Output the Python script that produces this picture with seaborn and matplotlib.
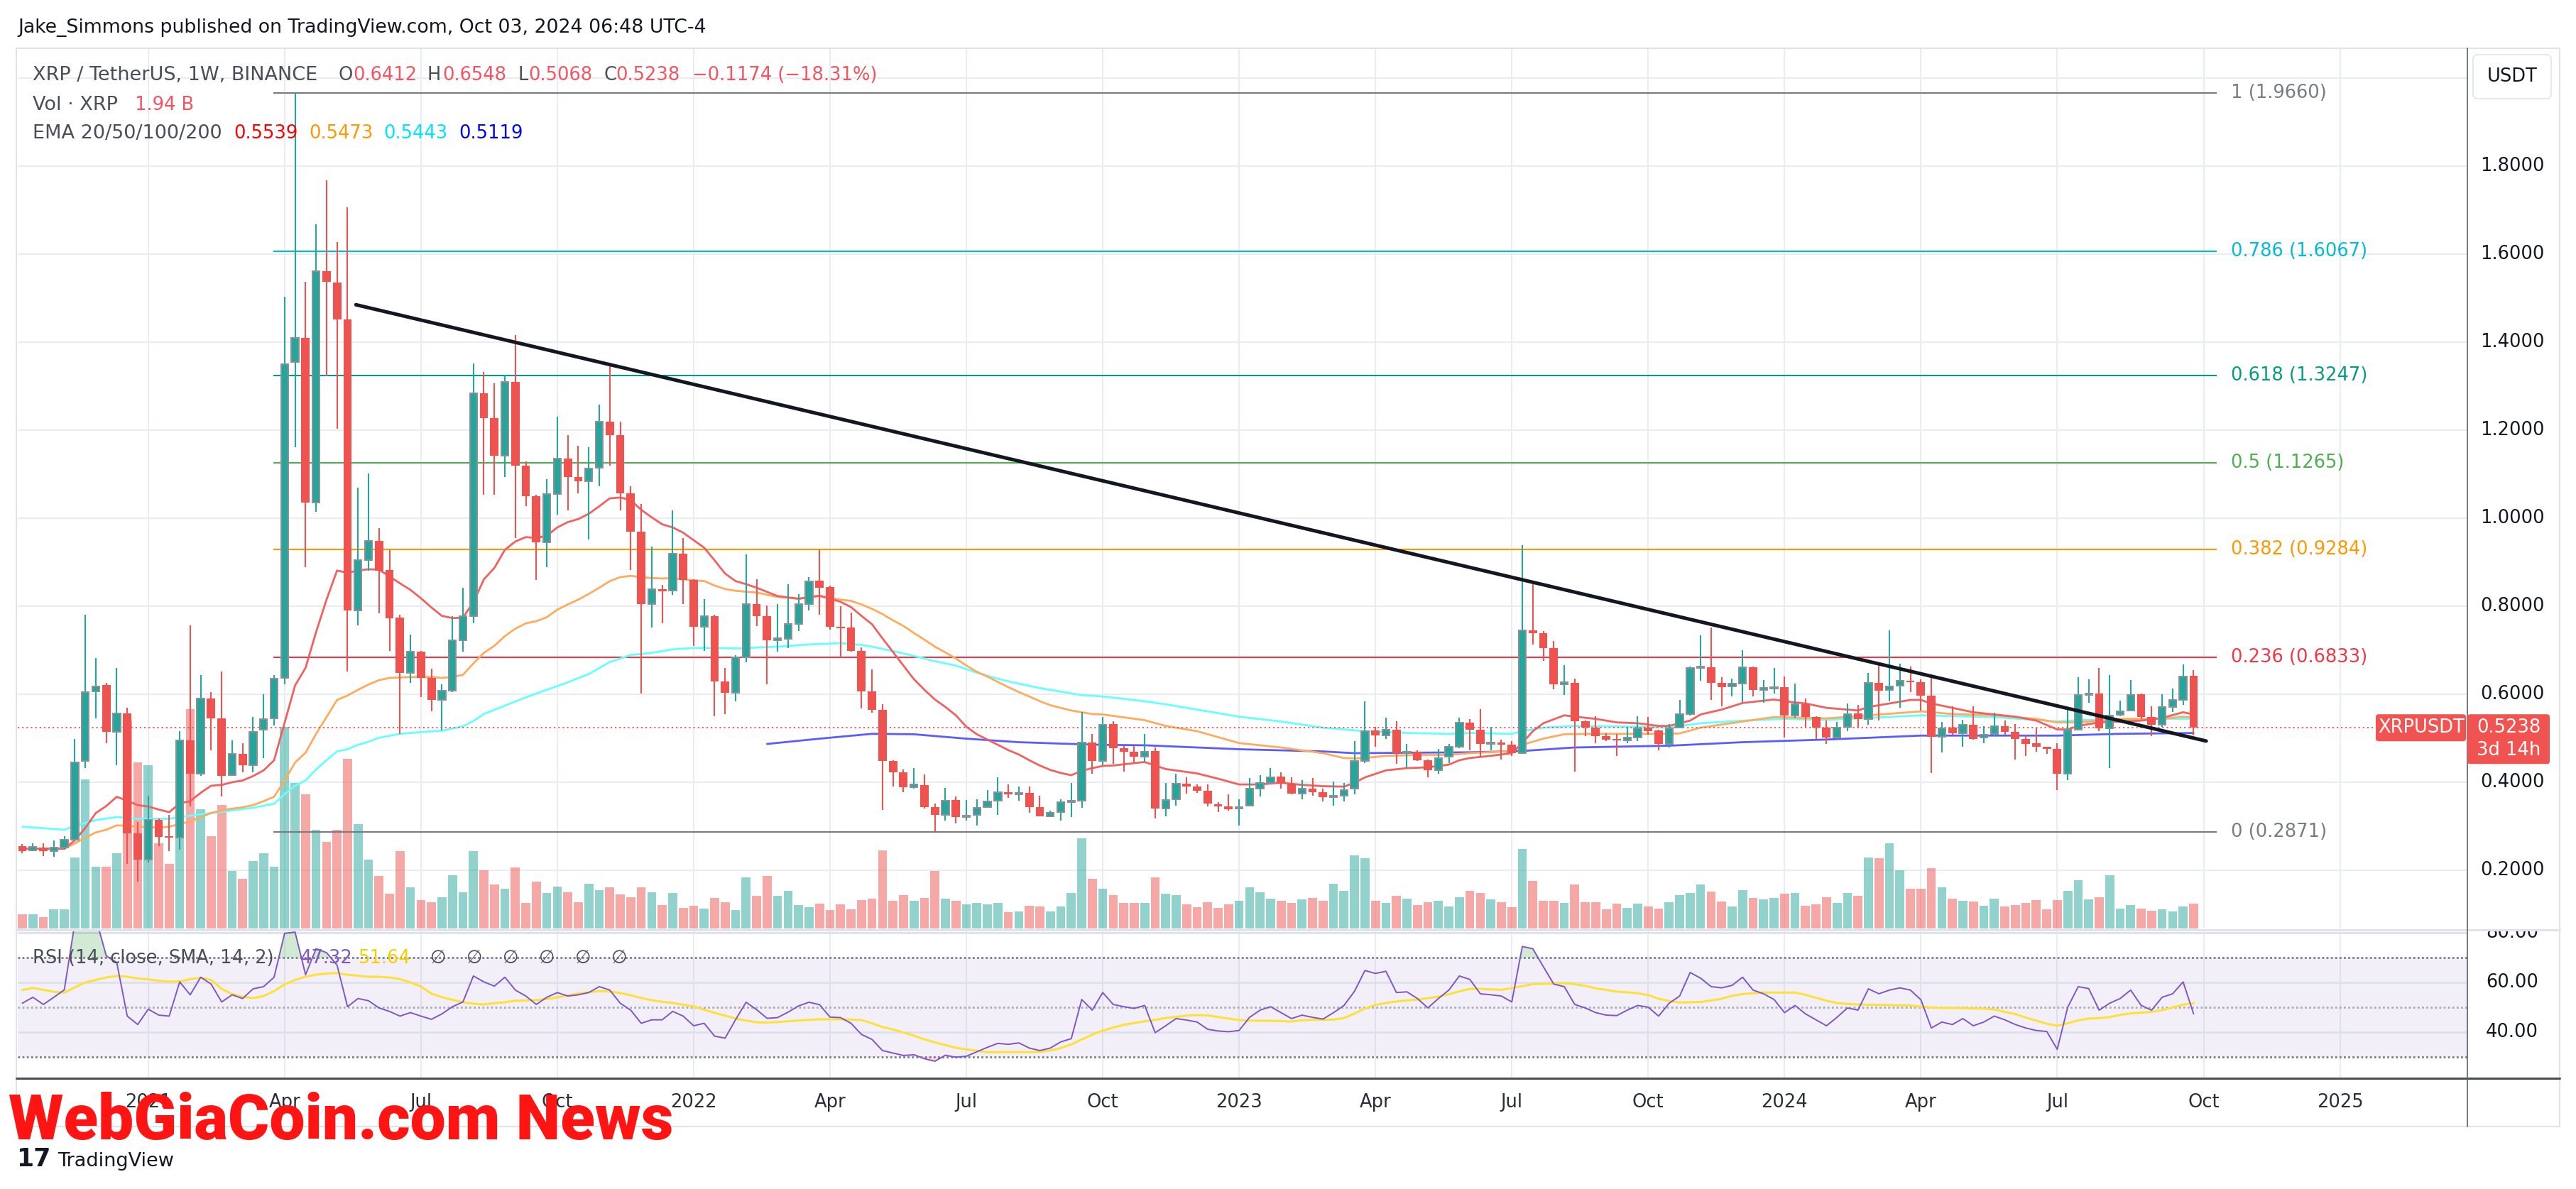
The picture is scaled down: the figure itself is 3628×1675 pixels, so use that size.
import numpy as np
import matplotlib
matplotlib.use("Agg")
import matplotlib.pyplot as plt
import seaborn as sns
from matplotlib.patches import FancyBboxPatch
from matplotlib.lines import Line2D
from matplotlib.transforms import IdentityTransform, blended_transform_factory
from matplotlib import font_manager as fm

# ---------------------------------------------------------------- data
week_start = -64          # week index 0 = week of 3 Jan 2022
opens = [
    0.255, 0.245, 0.252, 0.244, 0.251, 0.270, 0.448, 0.606, 0.621, 0.514,
    0.556, 0.284, 0.224, 0.314, 0.276, 0.274, 0.495, 0.419, 0.591, 0.545,
    0.416, 0.464, 0.439, 0.519, 0.545, 0.637, 1.354, 1.409, 1.035, 1.561,
    1.536, 1.451, 0.790, 0.905, 0.948, 0.883, 0.774, 0.648, 0.696, 0.637,
    0.587, 0.608, 0.723, 0.778, 1.284, 1.228, 1.142, 1.309, 1.120, 1.050,
    0.945, 1.055, 1.136, 1.094, 1.084, 1.115, 1.220, 1.189, 1.057, 0.969,
    0.804, 0.839, 0.835, 0.919, 0.860, 0.753, 0.778, 0.629, 0.603, 0.684,
    0.805, 0.777, 0.722, 0.726, 0.760, 0.805, 0.858, 0.843, 0.753, 0.752,
    0.698, 0.606, 0.565, 0.448, 0.423, 0.389, 0.394, 0.343, 0.325, 0.360,
    0.321, 0.325, 0.344, 0.358, 0.378, 0.372, 0.376, 0.344, 0.323, 0.332,
    0.354, 0.358, 0.491, 0.448, 0.532, 0.477, 0.469, 0.458, 0.471, 0.340,
    0.361, 0.397, 0.390, 0.380, 0.350, 0.345, 0.340, 0.346, 0.386, 0.399,
    0.413, 0.397, 0.374, 0.386, 0.377, 0.366, 0.369, 0.385, 0.448, 0.518,
    0.506, 0.520, 0.466, 0.470, 0.450, 0.427, 0.458, 0.481, 0.536, 0.520,
    0.487, 0.491, 0.485, 0.466, 0.745, 0.738, 0.704, 0.623, 0.626, 0.538,
    0.524, 0.505, 0.497, 0.495, 0.501, 0.524, 0.517, 0.487, 0.524, 0.555,
    0.661, 0.661, 0.626, 0.618, 0.624, 0.662, 0.610, 0.614, 0.616, 0.552,
    0.577, 0.548, 0.524, 0.502, 0.526, 0.557, 0.544, 0.626, 0.610, 0.620,
    0.631, 0.628, 0.596, 0.503, 0.524, 0.511, 0.530, 0.502, 0.510, 0.528,
    0.514, 0.498, 0.489, 0.480, 0.476, 0.420, 0.520, 0.598, 0.602, 0.522,
    0.553, 0.563, 0.600, 0.548, 0.530, 0.571, 0.587, 0.6412]
highs = [
    0.259, 0.261, 0.261, 0.268, 0.277, 0.498, 0.780, 0.682, 0.625, 0.660,
    0.570, 0.309, 0.370, 0.317, 0.326, 0.516, 0.757, 0.643, 0.604, 0.651,
    0.495, 0.489, 0.548, 0.600, 0.643, 1.503, 1.966, 1.537, 1.668, 1.767,
    1.628, 1.707, 1.070, 1.101, 0.977, 0.928, 0.780, 0.735, 0.699, 0.658,
    0.622, 0.778, 0.842, 1.352, 1.332, 1.306, 1.325, 1.416, 1.129, 1.053,
    1.089, 1.230, 1.189, 1.165, 1.161, 1.258, 1.352, 1.220, 1.072, 1.032,
    0.936, 0.849, 1.017, 0.955, 0.861, 0.816, 0.780, 0.659, 0.689, 0.917,
    0.861, 0.802, 0.804, 0.850, 0.827, 0.866, 0.929, 0.846, 0.800, 0.786,
    0.706, 0.657, 0.577, 0.450, 0.429, 0.433, 0.418, 0.351, 0.387, 0.368,
    0.360, 0.362, 0.382, 0.411, 0.395, 0.391, 0.391, 0.370, 0.335, 0.362,
    0.399, 0.559, 0.510, 0.549, 0.538, 0.483, 0.483, 0.510, 0.479, 0.399,
    0.419, 0.411, 0.395, 0.395, 0.355, 0.372, 0.362, 0.409, 0.416, 0.433,
    0.423, 0.411, 0.405, 0.409, 0.385, 0.401, 0.399, 0.493, 0.584, 0.526,
    0.546, 0.538, 0.487, 0.473, 0.452, 0.475, 0.487, 0.546, 0.544, 0.566,
    0.526, 0.497, 0.493, 0.938, 0.855, 0.743, 0.721, 0.666, 0.636, 0.541,
    0.550, 0.512, 0.510, 0.526, 0.550, 0.548, 0.520, 0.532, 0.587, 0.663,
    0.734, 0.751, 0.638, 0.635, 0.700, 0.663, 0.632, 0.659, 0.641, 0.624,
    0.591, 0.550, 0.540, 0.537, 0.579, 0.575, 0.649, 0.669, 0.745, 0.669,
    0.663, 0.634, 0.643, 0.537, 0.573, 0.542, 0.573, 0.528, 0.558, 0.541,
    0.532, 0.506, 0.522, 0.481, 0.489, 0.566, 0.639, 0.634, 0.659, 0.644,
    0.585, 0.632, 0.602, 0.573, 0.600, 0.613, 0.667, 0.6548]
lows = [
    0.239, 0.243, 0.233, 0.230, 0.246, 0.268, 0.433, 0.545, 0.488, 0.438,
    0.214, 0.174, 0.218, 0.255, 0.243, 0.246, 0.345, 0.414, 0.473, 0.367,
    0.414, 0.423, 0.423, 0.454, 0.529, 0.622, 1.162, 0.889, 1.014, 1.322,
    1.203, 0.651, 0.757, 0.881, 0.784, 0.699, 0.510, 0.625, 0.594, 0.562,
    0.517, 0.605, 0.696, 0.761, 1.053, 1.053, 1.093, 0.954, 1.027, 0.860,
    0.888, 1.008, 1.017, 1.056, 0.952, 1.072, 1.120, 1.017, 0.883, 0.601,
    0.751, 0.761, 0.826, 0.804, 0.710, 0.698, 0.550, 0.555, 0.584, 0.673,
    0.755, 0.623, 0.696, 0.704, 0.743, 0.790, 0.781, 0.747, 0.682, 0.696,
    0.567, 0.558, 0.337, 0.391, 0.377, 0.386, 0.340, 0.288, 0.313, 0.307,
    0.313, 0.301, 0.343, 0.326, 0.364, 0.358, 0.331, 0.322, 0.321, 0.313,
    0.321, 0.342, 0.420, 0.438, 0.442, 0.424, 0.444, 0.446, 0.317, 0.323,
    0.347, 0.374, 0.376, 0.345, 0.333, 0.335, 0.301, 0.345, 0.368, 0.398,
    0.386, 0.372, 0.362, 0.369, 0.356, 0.347, 0.356, 0.372, 0.444, 0.481,
    0.499, 0.442, 0.434, 0.448, 0.411, 0.420, 0.444, 0.477, 0.473, 0.458,
    0.473, 0.452, 0.459, 0.464, 0.713, 0.675, 0.612, 0.598, 0.424, 0.505,
    0.489, 0.493, 0.460, 0.489, 0.493, 0.508, 0.473, 0.479, 0.523, 0.552,
    0.631, 0.587, 0.573, 0.595, 0.582, 0.595, 0.580, 0.601, 0.501, 0.546,
    0.524, 0.498, 0.487, 0.498, 0.516, 0.524, 0.530, 0.541, 0.584, 0.569,
    0.604, 0.563, 0.421, 0.467, 0.508, 0.480, 0.497, 0.489, 0.505, 0.508,
    0.452, 0.460, 0.469, 0.464, 0.383, 0.405, 0.520, 0.581, 0.516, 0.433,
    0.550, 0.562, 0.544, 0.505, 0.526, 0.559, 0.575, 0.5068]
closes = [
    0.243, 0.253, 0.243, 0.252, 0.269, 0.445, 0.605, 0.618, 0.514, 0.556,
    0.284, 0.224, 0.314, 0.276, 0.274, 0.495, 0.419, 0.591, 0.545, 0.414,
    0.464, 0.439, 0.514, 0.544, 0.635, 1.350, 1.409, 1.035, 1.561, 1.537,
    1.451, 0.790, 0.905, 0.948, 0.881, 0.772, 0.648, 0.696, 0.637, 0.587,
    0.608, 0.723, 0.778, 1.284, 1.228, 1.142, 1.309, 1.120, 1.050, 0.945,
    1.055, 1.136, 1.094, 1.084, 1.113, 1.220, 1.189, 1.057, 0.969, 0.804,
    0.839, 0.834, 0.919, 0.860, 0.753, 0.778, 0.629, 0.603, 0.684, 0.805,
    0.777, 0.722, 0.727, 0.760, 0.805, 0.856, 0.842, 0.753, 0.751, 0.698,
    0.606, 0.565, 0.448, 0.423, 0.389, 0.395, 0.343, 0.325, 0.358, 0.321,
    0.323, 0.342, 0.356, 0.378, 0.372, 0.375, 0.344, 0.322, 0.330, 0.354,
    0.358, 0.490, 0.448, 0.530, 0.477, 0.469, 0.458, 0.469, 0.340, 0.360,
    0.397, 0.390, 0.380, 0.351, 0.345, 0.339, 0.343, 0.385, 0.399, 0.411,
    0.397, 0.374, 0.385, 0.377, 0.366, 0.369, 0.383, 0.448, 0.516, 0.506,
    0.520, 0.466, 0.470, 0.450, 0.427, 0.455, 0.480, 0.536, 0.520, 0.487,
    0.490, 0.485, 0.466, 0.745, 0.738, 0.704, 0.623, 0.627, 0.538, 0.524,
    0.505, 0.497, 0.495, 0.501, 0.523, 0.516, 0.487, 0.522, 0.555, 0.660,
    0.663, 0.626, 0.616, 0.624, 0.662, 0.610, 0.614, 0.616, 0.552, 0.577,
    0.548, 0.524, 0.502, 0.524, 0.555, 0.544, 0.626, 0.608, 0.618, 0.631,
    0.628, 0.596, 0.503, 0.523, 0.511, 0.530, 0.499, 0.508, 0.528, 0.514,
    0.498, 0.487, 0.480, 0.475, 0.419, 0.520, 0.598, 0.602, 0.522, 0.552,
    0.562, 0.598, 0.548, 0.530, 0.571, 0.587, 0.641, 0.5238]
volume_b = [
    1.11, 1.11, 0.89, 1.50, 1.50, 5.54, 11.64, 4.82, 4.82, 5.88,
    16.24, 12.97, 12.75, 6.65, 5.04, 13.41, 17.13, 9.31, 7.21, 9.64,
    4.49, 3.88, 5.27, 5.88, 4.82, 15.74, 11.36, 10.48, 7.70, 6.76,
    7.70, 13.25, 8.15, 5.38, 4.10, 2.72, 6.04, 3.21, 2.22, 2.05,
    2.44, 4.16, 2.83, 6.04, 4.55, 3.44, 3.10, 4.77, 2.00, 3.66,
    2.77, 3.27, 2.83, 2.05, 3.49, 2.99, 3.21, 2.66, 2.44, 3.21,
    2.83, 1.83, 2.77, 1.61, 1.77, 1.55, 2.38, 2.05, 1.44, 3.99,
    2.55, 4.10, 2.55, 2.94, 1.83, 1.66, 1.94, 1.44, 1.88, 1.50,
    2.22, 2.33, 6.10, 2.16, 2.61, 2.16, 2.38, 4.49, 2.33, 2.16,
    1.88, 2.00, 1.88, 2.00, 1.27, 1.33, 1.77, 1.72, 1.33, 1.72,
    2.77, 7.04, 3.88, 3.10, 2.61, 2.00, 2.00, 2.00, 3.99, 2.72,
    2.61, 1.88, 1.66, 2.05, 1.61, 1.88, 2.16, 3.21, 2.83, 2.33,
    2.16, 2.00, 2.27, 2.38, 2.16, 3.49, 2.94, 5.71, 5.49, 2.16,
    2.00, 2.55, 2.33, 1.83, 2.05, 2.16, 1.72, 2.44, 2.94, 2.77,
    2.27, 2.05, 1.66, 6.21, 3.71, 2.16, 2.16, 2.00, 3.44, 2.05,
    2.05, 1.50, 1.94, 1.61, 1.94, 1.72, 1.55, 2.05, 2.61, 2.77,
    3.44, 2.88, 2.11, 1.72, 2.99, 2.38, 2.27, 2.38, 2.72, 2.77,
    1.77, 1.88, 2.44, 2.00, 2.77, 2.55, 5.54, 5.49, 6.65, 4.55,
    3.10, 3.10, 4.71, 3.21, 2.33, 2.16, 2.11, 1.77, 2.33, 1.72,
    1.83, 2.00, 2.22, 1.50, 2.22, 2.94, 3.77, 2.27, 2.44, 4.16,
    1.55, 1.83, 1.55, 1.39, 1.50, 1.33, 1.72, 1.94]
rsi = [
    51.6, 54.0, 51.1, 54.0, 57.0, 84.0, 90.0, 86.0, 70.7, 68.0,
    46.4, 43.0, 49.2, 46.8, 46.4, 60.2, 55.0, 62.1, 59.3, 52.1,
    55.0, 53.5, 57.4, 58.3, 62.1, 79.8, 80.3, 63.1, 73.6, 72.0,
    67.0, 50.2, 53.5, 52.6, 49.7, 48.3, 46.4, 47.8, 46.4, 45.1,
    47.3, 50.2, 52.1, 62.6, 60.2, 58.5, 62.1, 56.9, 54.5, 51.1,
    54.0, 55.9, 54.5, 55.0, 55.9, 58.3, 56.9, 51.6, 48.8, 43.5,
    44.9, 44.9, 48.3, 46.4, 42.5, 43.5, 38.3, 37.5, 45.0, 52.0,
    49.0, 45.5, 45.8, 48.0, 50.5, 52.0, 51.0, 46.0, 45.8, 43.5,
    39.0, 37.0, 32.5, 31.5, 30.5, 30.8, 29.2, 28.2, 30.6, 29.8,
    30.2, 32.0, 33.8, 35.4, 35.0, 35.6, 33.5, 32.5, 33.5, 36.0,
    37.3, 53.1, 48.8, 55.9, 51.1, 50.2, 49.5, 50.7, 39.7, 42.5,
    45.4, 44.8, 44.0, 41.1, 40.4, 40.1, 40.6, 45.9, 48.8, 50.2,
    47.8, 45.4, 46.8, 45.9, 45.2, 47.8, 50.7, 56.4, 64.8, 63.6,
    64.5, 55.9, 56.2, 53.5, 49.7, 53.5, 56.9, 62.6, 61.2, 55.4,
    55.0, 54.5, 52.1, 74.5, 73.6, 66.4, 59.3, 58.3, 51.1, 49.7,
    47.8, 46.8, 46.6, 48.8, 50.7, 50.0, 46.4, 51.6, 54.5, 64.0,
    61.7, 58.3, 57.8, 58.8, 62.1, 56.9, 55.4, 53.1, 47.8, 50.7,
    47.3, 44.9, 42.5, 45.9, 49.7, 48.8, 57.4, 55.4, 56.9, 57.8,
    56.9, 53.0, 41.6, 44.0, 43.0, 45.4, 42.5, 44.0, 46.4, 44.9,
    43.0, 41.6, 40.6, 40.2, 33.0, 50.0, 58.3, 57.5, 48.8, 51.6,
    53.5, 56.9, 50.7, 48.8, 54.0, 55.4, 60.2, 47.32]
rsi_sma = [
    56.9, 57.8, 57.0, 56.2, 55.9, 58.0, 60.0, 61.0, 62.0, 62.6,
    62.3, 61.6, 61.2, 60.7, 60.3, 60.4, 61.3, 61.9, 61.0, 57.4,
    55.3, 54.2, 53.7, 54.5, 56.5, 59.2, 61.0, 62.3, 63.1, 63.6,
    63.8, 63.1, 62.7, 62.3, 62.2, 62.0, 61.3, 60.0, 58.3, 55.5,
    54.0, 53.0, 52.0, 51.4, 51.1, 51.6, 52.0, 52.6, 52.7, 52.9,
    53.3, 54.0, 54.7, 55.5, 56.0, 56.5, 56.3, 55.7, 54.8, 53.7,
    52.8, 52.2, 51.7, 51.0, 50.3, 49.0, 47.7, 46.6, 45.4, 44.6,
    43.9, 43.8, 44.0, 44.3, 44.6, 44.9, 45.1, 45.1, 45.1, 45.0,
    44.8, 43.5, 42.0, 41.0, 39.8, 38.5, 37.0, 35.8, 34.7, 33.6,
    33.0, 32.4, 31.8, 31.8, 31.9, 31.9, 31.9, 32.0, 32.5, 33.5,
    35.0, 37.0, 38.9, 40.5, 41.8, 42.9, 43.6, 44.3, 44.9, 45.6,
    46.1, 46.6, 46.8, 46.7, 46.0, 45.4, 44.8, 44.6, 44.5, 44.5,
    44.4, 44.2, 44.7, 44.9, 44.9, 45.0, 45.6, 47.4, 49.5, 50.9,
    51.7, 52.3, 52.7, 53.1, 53.6, 54.3, 55.2, 56.4, 57.4, 57.4,
    57.2, 57.0, 57.7, 58.5, 59.3, 59.4, 59.6, 59.7, 59.3, 58.6,
    57.6, 57.0, 56.3, 56.0, 55.6, 54.9, 53.4, 52.5, 51.9, 52.0,
    52.1, 52.7, 53.4, 54.6, 55.3, 55.6, 55.9, 55.9, 55.9, 55.9,
    55.0, 53.8, 52.6, 51.7, 51.3, 51.1, 51.0, 50.9, 50.9, 50.8,
    50.7, 50.2, 49.9, 49.7, 49.7, 49.6, 49.5, 49.4, 49.1, 48.1,
    47.2, 45.8, 44.6, 43.3, 42.5, 43.5, 44.7, 45.4, 45.6, 46.0,
    46.9, 47.5, 47.8, 48.1, 48.8, 49.9, 51.0, 51.64]

ema20_w = [-64, -60, -59, -58, -57, -56, -55, -54, -53, -52, -51, -50, -49, -48, -47, -46, -45, -44, -43, -42, -41, -40,
           -39, -38, -37, -36, -35, -34, -33, -32, -31, -30, -28, -27, -26, -25, -24, -23, -22, -21, -20, -19, -18, -17,
           -16, -15, -14, -13, -12, -11, -10, -9, -8, -7, -6, -5, -4, -3, -2, -1, 0, 1, 2, 3, 4, 5, 6, 8, 10, 12, 13, 14,
           15, 16, 17, 18, 19, 20, 21, 22, 23, 24, 25, 26, 27, 28, 29, 30, 31, 32, 33, 34, 35, 36, 37, 38, 39, 40, 43, 44,
           45, 48, 50, 52, 54, 56, 58, 60, 62, 63, 64, 66, 68, 70, 72, 73, 74, 76, 78, 79, 80, 81, 83, 84, 86, 88, 90, 92,
           93, 94, 95, 96, 98, 100, 103, 104, 106, 108, 110, 111, 112, 114, 116, 117, 118, 120, 122, 124, 126, 128, 130,
           131, 132, 134, 136, 138, 140, 142, 143]
ema20_v = [0.249, 0.249, 0.268, 0.296, 0.330, 0.346, 0.367, 0.358, 0.348, 0.345, 0.338, 0.332, 0.352, 0.357, 0.376, 0.392,
           0.394, 0.400, 0.404, 0.414, 0.427, 0.450, 0.535, 0.620, 0.660, 0.741, 0.815, 0.881, 0.876, 0.881, 0.884, 0.883,
           0.852, 0.837, 0.818, 0.797, 0.778, 0.773, 0.774, 0.809, 0.861, 0.887, 0.928, 0.947, 0.957, 0.955, 0.960, 0.979,
           0.991, 0.998, 1.010, 1.027, 1.045, 1.047, 1.041, 1.019, 1.002, 0.986, 0.979, 0.967, 0.950, 0.933, 0.904, 0.874,
           0.857, 0.850, 0.842, 0.823, 0.817, 0.824, 0.817, 0.810, 0.798, 0.778, 0.759, 0.727, 0.696, 0.665, 0.634, 0.610,
           0.588, 0.571, 0.552, 0.526, 0.509, 0.497, 0.485, 0.473, 0.463, 0.450, 0.438, 0.428, 0.421, 0.416, 0.426, 0.432,
           0.437, 0.438, 0.446, 0.438, 0.430, 0.420, 0.408, 0.395, 0.395, 0.399, 0.394, 0.391, 0.390, 0.399, 0.411, 0.427,
           0.432, 0.434, 0.440, 0.450, 0.455, 0.460, 0.466, 0.489, 0.516, 0.534, 0.552, 0.549, 0.544, 0.536, 0.534, 0.528,
           0.528, 0.534, 0.540, 0.554, 0.565, 0.580, 0.588, 0.584, 0.579, 0.569, 0.565, 0.563, 0.571, 0.579, 0.587, 0.587,
           0.579, 0.569, 0.559, 0.554, 0.549, 0.540, 0.520, 0.520, 0.528, 0.536, 0.538, 0.540, 0.546, 0.559, 0.5539]
ema50_w = [-64, -60, -59, -58, -57, -56, -55, -54, -53, -52, -51, -50, -49, -48, -47, -46, -45, -44, -43, -42, -41, -40,
           -39, -38, -37, -36, -35, -34, -33, -32, -31, -30, -29, -27, -25, -24, -23, -22, -21, -20, -19, -18, -17, -16,
           -15, -14, -13, -12, -11, -10, -9, -8, -7, -6, -5, -4, -3, -2, -1, 0, 1, 2, 3, 4, 5, 6, 8, 10, 12, 13, 14, 15,
           16, 17, 18, 19, 20, 21, 22, 23, 24, 25, 26, 27, 28, 29, 30, 31, 32, 33, 34, 35, 36, 37, 38, 39, 43, 45, 48, 52,
           56, 60, 62, 63, 64, 66, 69, 72, 74, 78, 79, 81, 83, 86, 90, 93, 94, 96, 100, 103, 108, 112, 117, 120, 124, 128,
           130, 132, 136, 140, 142, 143]
ema50_v = [0.249, 0.249, 0.261, 0.274, 0.286, 0.292, 0.302, 0.301, 0.299, 0.299, 0.297, 0.299, 0.305, 0.311, 0.321, 0.330,
           0.336, 0.340, 0.343, 0.348, 0.357, 0.367, 0.404, 0.445, 0.467, 0.510, 0.548, 0.587, 0.597, 0.610, 0.622, 0.632,
           0.637, 0.639, 0.639, 0.637, 0.639, 0.644, 0.670, 0.694, 0.710, 0.732, 0.749, 0.761, 0.766, 0.775, 0.792, 0.804,
           0.815, 0.828, 0.842, 0.857, 0.866, 0.869, 0.866, 0.864, 0.863, 0.864, 0.861, 0.859, 0.857, 0.847, 0.839, 0.835,
           0.833, 0.831, 0.821, 0.817, 0.823, 0.818, 0.815, 0.812, 0.804, 0.794, 0.782, 0.768, 0.755, 0.739, 0.724, 0.708,
           0.695, 0.681, 0.665, 0.651, 0.640, 0.628, 0.616, 0.605, 0.595, 0.584, 0.575, 0.569, 0.563, 0.559, 0.555, 0.554,
           0.541, 0.528, 0.516, 0.489, 0.479, 0.466, 0.455, 0.454, 0.455, 0.460, 0.462, 0.462, 0.466, 0.471, 0.485, 0.499,
           0.509, 0.510, 0.510, 0.510, 0.511, 0.524, 0.538, 0.548, 0.545, 0.552, 0.561, 0.555, 0.552, 0.544, 0.536, 0.536,
           0.544, 0.544, 0.549, 0.5473]
ema100_w = [-64, -60, -59, -57, -55, -53, -50, -48, -46, -44, -42, -40, -39, -38, -37, -36, -35, -34, -33, -32, -31, -30,
            -28, -26, -24, -22, -21, -20, -18, -16, -14, -12, -10, -8, -6, -4, -2, 0, 2, 4, 8, 11, 14, 16, 17, 19, 21, 23,
            25, 27, 29, 31, 33, 35, 37, 39, 43, 45, 52, 56, 60, 63, 64, 68, 72, 74, 78, 79, 81, 84, 90, 93, 94, 96, 100,
            104, 108, 112, 117, 124, 130, 132, 140, 143]
ema100_v = [0.299, 0.292, 0.301, 0.314, 0.321, 0.317, 0.317, 0.324, 0.330, 0.336, 0.342, 0.351, 0.373, 0.392, 0.404,
            0.429, 0.450, 0.470, 0.475, 0.485, 0.492, 0.501, 0.510, 0.514, 0.517, 0.527, 0.539, 0.555, 0.574, 0.593,
            0.610, 0.627, 0.646, 0.673, 0.689, 0.694, 0.702, 0.705, 0.705, 0.704, 0.708, 0.713, 0.716, 0.712, 0.708,
            0.698, 0.687, 0.675, 0.665, 0.649, 0.635, 0.624, 0.614, 0.606, 0.598, 0.595, 0.584, 0.577, 0.549, 0.538,
            0.524, 0.518, 0.516, 0.512, 0.510, 0.512, 0.510, 0.516, 0.524, 0.528, 0.526, 0.524, 0.528, 0.534, 0.540,
            0.544, 0.542, 0.546, 0.552, 0.548, 0.538, 0.541, 0.544, 0.5443]
ema200_w = [7, 12, 17, 21, 26, 31, 36, 39, 43, 52, 60, 63, 68, 74, 79, 84, 93, 100, 108, 117, 130, 136, 143]
ema200_v = [0.487, 0.499, 0.510, 0.509, 0.499, 0.491, 0.487, 0.485, 0.484, 0.475, 0.470, 0.466, 0.467, 0.468, 0.471,
            0.479, 0.483, 0.491, 0.497, 0.506, 0.506, 0.510, 0.5119]

fib_ratio_labels = ["1", "0.786", "0.618", "0.5", "0.382", "0.236", "0"]
fib_prices = [1.9660, 1.6067, 1.3247, 1.1265, 0.9284, 0.6833, 0.2871]
fib_colors = ["#787b86", "#00bcd4", "#089981", "#4caf50", "#ff9800", "#f23645", "#787b86"]
fib_start_w, fib_end_w = -40.05, 145.2

trend_w = [-32.2, 144.2]
trend_p = [1.485, 0.4936]

tick_weeks = [-52, -39, -26, -13, 0, 13, 26, 39, 52, 65, 78, 91, 104, 117, 130, 144, 157]
tick_labels = ["2021", "Apr", "Jul", "Oct", "2022", "Apr", "Jul", "Oct", "2023", "Apr", "Jul", "Oct",
               "2024", "Apr", "Jul", "Oct", "2025"]
price_ticks = [0.2, 0.4, 0.6, 0.8, 1.0, 1.2, 1.4, 1.6, 1.8]
price_grid = [0.2, 0.4, 0.6, 0.8, 1.0, 1.2, 1.4, 1.6, 1.8, 2.0]
rsi_ticks = [80, 60, 40]

title_text = "Jake_Simmons published on TradingView.com, Oct 03, 2024 06:48 UTC-4"

# ---------------------------------------------------------------- style
sns.set_theme(style="white")
plt.rcParams["font.family"] = ["DejaVu Sans"]
UP, DN = "#26a69a", "#ef5350"
TXT = "#131722"
GRID = "#e9edf2"
FS = 18.5

W, H = 3628, 1675
fig = plt.figure(figsize=(W / 100, H / 100), dpi=100)
fig.patch.set_facecolor("white")


def fx(x):
    return x / W


def fy(y):
    return 1 - y / H


L, R = 25, 3475
MT, MB = 69, 1308
RT, RB = 1311, 1518
XL = (-64.44, 169.1)
PL = (0.0677, 2.0661)
RL = (21.6, 80.9)

ax_vol = fig.add_axes([fx(L), fy(MB), (R - L) / W, (MB - MT) / H], zorder=1)
ax = fig.add_axes([fx(L), fy(MB), (R - L) / W, (MB - MT) / H], zorder=2)
ax_r = fig.add_axes([fx(L), fy(RB), (R - L) / W, (RB - RT) / H], zorder=1)
ax_ps = fig.add_axes([fx(R), fy(MB), (3605 - R) / W, (MB - MT) / H], zorder=1)
ax_rs = fig.add_axes([fx(R), fy(RB), (3605 - R) / W, (RB - RT) / H], zorder=1)
for a in (ax_vol, ax, ax_r, ax_ps, ax_rs):
    a.set_axis_off()
for a in (ax_vol, ax, ax_r):
    a.set_xlim(*XL)
ax.set_ylim(*PL)
ax_vol.set_ylim(0, 68.7)
ax_r.set_ylim(*RL)
ax_ps.set_ylim(*PL)
ax_ps.set_xlim(0, 1)
ax_rs.set_ylim(*RL)
ax_rs.set_xlim(0, 1)

weeks = np.arange(week_start, week_start + len(closes))
o = np.array(opens)
c = np.array(closes)
hi = np.array(highs)
lo = np.array(lows)
vol = np.array(volume_b)
up = c >= o

# ---- grid (bottom layer)
bt = blended_transform_factory(ax_vol.transAxes, ax.transData)
for p in price_grid:
    ax_vol.plot([0, 1], [p, p], transform=bt, color=GRID, lw=1.5, zorder=0)
for w in tick_weeks:
    ax_vol.axvline(w, color=GRID, lw=1.5, zorder=0)
    ax_r.axvline(w, color=GRID, lw=1.5, zorder=0)

# ---- volume
ax_vol.bar(weeks[up], vol[up], width=0.86, color=UP, alpha=0.5, linewidth=0, zorder=1)
ax_vol.bar(weeks[~up], vol[~up], width=0.86, color=DN, alpha=0.5, linewidth=0, zorder=1)

# ---- fib levels
for lab, p, col in zip(fib_ratio_labels, fib_prices, fib_colors):
    ax.hlines(p, fib_start_w, fib_end_w, color=col, lw=1.5, zorder=2)
    ax.text(146.55, p, f"{lab} ({p:.4f})", color=col, fontsize=FS, va="center", ha="left", zorder=2)

# ---- EMAs
for ww, vv, col in ((ema200_w, ema200_v, "#5b5bff"), (ema100_w, ema100_v, "#66ffff"),
                    (ema50_w, ema50_v, "#ffab5e"), (ema20_w, ema20_v, "#f26060")):
    sns.lineplot(x=ww, y=vv, ax=ax, color=col, linewidth=2.0, zorder=3, legend=False)

# ---- last price dotted line
ax.axhline(closes[-1], color=DN, lw=1.3, ls=(0, (1.2, 2.2)), zorder=3)

# ---- candles
mid = (o + c) / 2
bh = np.maximum(np.abs(c - o), 0.0032)
bl = mid - bh / 2
ax.vlines(weeks[up], lo[up], hi[up], color=UP, lw=1.5, zorder=4)
ax.vlines(weeks[~up], lo[~up], hi[~up], color=DN, lw=1.5, zorder=4)
ax.bar(weeks[up], bh[up], bottom=bl[up], width=0.7, color=UP, edgecolor="#8c8f98", linewidth=1.4, zorder=5)
ax.bar(weeks[~up], bh[~up], bottom=bl[~up], width=0.8, color=DN, linewidth=0, zorder=5)

# ---- trend line
ax.plot(trend_w, trend_p, color=TXT, lw=3.6, solid_capstyle="round", zorder=6)

# ---- RSI pane
r = np.array(rsi)
ax_r.axhspan(30, 70, color="#7e57c2", alpha=0.09, lw=0, zorder=0)
for lvl in rsi_ticks:
    ax_r.axhline(lvl, color="#dde1eb", lw=2.0, zorder=0.5)
ax_r.axhline(70, color="#787b86", lw=2.0, ls=(0, (1.0, 1.2)), zorder=1)
ax_r.axhline(30, color="#787b86", lw=2.0, ls=(0, (1.0, 1.2)), zorder=1)
ax_r.axhline(50, color="#a9acb6", lw=2.0, ls=(0, (1.0, 1.2)), zorder=1)
ax_r.fill_between(weeks, 70, r, where=r > 70, interpolate=True, color="#4caf50", alpha=0.25, lw=0, zorder=1)
ax_r.fill_between(weeks, 30, r, where=r < 30, interpolate=True, color="#f23645", alpha=0.18, lw=0, zorder=1)
sns.lineplot(x=weeks, y=rsi_sma, ax=ax_r, color="#fde13a", linewidth=2.2, zorder=2, legend=False)
sns.lineplot(x=weeks, y=rsi, ax=ax_r, color="#7e57c2", linewidth=1.4, zorder=3, legend=False)

# ---- scales
for p in price_ticks:
    ax_ps.text(0.485, p, f"{p:.4f}", ha="center", va="center", fontsize=FS, color=TXT, clip_on=True)
for lvl in rsi_ticks:
    ax_rs.text(0.485, lvl, f"{lvl:.2f}", ha="center", va="center", fontsize=FS, color=TXT, clip_on=True)

# ---- frame / separators


def fline(x0, y0, x1, y1, color, lw, z=10):
    fig.add_artist(Line2D([fx(x0), fx(x1)], [fy(y0), fy(y1)], transform=fig.transFigure,
                          color=color, lw=lw, zorder=z))


fline(23, 68, 3605, 68, "#e0e3eb", 1.5)
fline(23, 1587, 3605, 1587, "#e0e3eb", 1.5)
fline(23, 68, 23, 1587, "#e0e3eb", 1.5)
fline(3605, 68, 3605, 1587, "#e0e3eb", 1.5)
fline(23, 1309.5, 3605, 1309.5, "#e0e3eb", 2.2)
fline(23, 1518.5, 3605, 1518.5, "#4a4d57", 2.2)
fline(3475, 68, 3475, 1587, "#5d606b", 1.2)


def box(x0, y0, x1, y1, fc, ec="none", lw=0, rs=4, z=11):
    p = FancyBboxPatch((x0, H - y1), x1 - x0, y1 - y0, boxstyle=f"round,pad=0,rounding_size={rs}",
                       transform=IdentityTransform(), facecolor=fc, edgecolor=ec, lw=lw, zorder=z)
    fig.add_artist(p)


# USDT box
box(3483, 77, 3593, 139, "white", "#e0e3eb", 1.2, rs=7)
fig.text(fx(3538), fy(108), "USDT", ha="center", va="center", fontsize=FS, color=TXT, zorder=12)

# current price label
cy = H - ax.transData.transform((0, closes[-1]))[1]
box(3346, cy - 19, 3473, cy + 19, "#f05350", rs=4)
box(3475, cy - 19, 3591, cy + 51, "#f05350", rs=4)
fig.text(fx(3410), fy(cy), "XRPUSDT", ha="center", va="center", fontsize=FS, color="white", zorder=12)
fig.text(fx(3533), fy(cy), f"{closes[-1]:.4f}", ha="center", va="center", fontsize=FS, color="white", zorder=12)
fig.text(fx(3533), fy(cy + 32), "3d 14h", ha="center", va="center", fontsize=FS, color="white", zorder=12)

# time axis labels (the first ones sit under the watermark, as in the screenshot)
for w, lab in zip(tick_weeks, tick_labels):
    xd = ax.transData.transform((w, 0))[0]
    fig.text(xd / W, fy(1553), lab, ha="center", va="center", fontsize=FS, color="#2a2e39", zorder=5)

# ---- legends / title
fig.text(fx(25), fy(39), title_text, ha="left", va="center", fontsize=19.3, color=TXT)
LG = "#4a4e5a"
RED = "#f7525f"


def seg(x, y, s, col, fs=FS):
    fig.text(fx(x), fy(y), s, ha="left", va="center", fontsize=fs, color=col, zorder=12)


seg(46, 106, "XRP / TetherUS, 1W, BINANCE", LG, 19.5)
for x, s, col in ((477, "O", LG), (497, "0.6412", RED),
                  (602, "H", LG), (623, "0.6548", RED), (729, "L", LG), (744, "0.5068", RED),
                  (850, "C", LG), (867, "0.5238", RED), (975, "\u22120.1174 (\u221218.31%)", RED)):
    seg(x, 106, s, col)
seg(46, 148, "Vol \u00b7 XRP", LG, 19.5)
seg(190, 148, "1.94 B", RED)
seg(46, 188, "EMA 20/50/100/200", LG, 19.5)
seg(329, 188, "0.5539", "#ff0000")
seg(435, 188, "0.5473", "#ff9800")
seg(540, 188, "0.5443", "#00e5ff")
seg(646, 188, "0.5119", "#0000ff")
seg(46, 1350, "RSI (14, close, SMA, 14, 2)", LG)
seg(423, 1350, "47.32", "#7e57c2")
seg(504, 1350, "51.64", "#f5d000")
for x in (606, 657, 708, 759, 810, 861):
    seg(x, 1350, "\u2205", LG)

# ---- watermark + logo
names = {f.name for f in fm.fontManager.ttflist}
if "Liberation Sans Narrow" in names:
    wm_family = ["Liberation Sans Narrow", "DejaVu Sans"]
elif "Roboto" in names:
    wm_family = ["Roboto", "DejaVu Sans"]
else:
    wm_family = ["DejaVu Sans"]
wm = fig.text(fx(12), fy(1605), "WebGiaCoin.com News", ha="left", va="baseline", fontsize=60,
              fontweight="heavy", fontstretch="condensed", family=wm_family, color="#ff1414", zorder=20)
rend = fig.canvas.get_renderer()
bb = wm.get_window_extent(rend)
wm.set_fontsize(60 * 936 / bb.width)

fig.text(fx(23), fy(1643), "17", ha="left", va="baseline", fontsize=25, fontweight="bold", color=TXT, zorder=20)
fig.text(fx(81), fy(1643), "TradingView", ha="left", va="baseline", fontsize=19.5, color=TXT, zorder=20)

fig.savefig("out.png", dpi=100, facecolor="white")
